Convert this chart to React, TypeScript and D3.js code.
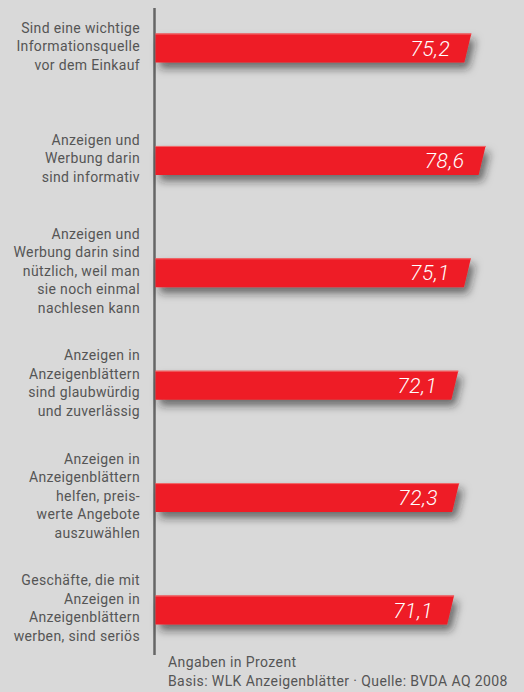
import React from "react";
import * as d3 from "d3";

const categories: string[][] = [
  ["Sind eine wichtige", "Informationsquelle", "vor dem Einkauf"],
  ["Anzeigen und", "Werbung darin", "sind informativ"],
  ["Anzeigen und", "Werbung darin sind", "nützlich, weil man", "sie noch einmal", "nachlesen kann"],
  ["Anzeigen in", "Anzeigenblättern", "sind glaubwürdig", "und zuverlässig"],
  ["Anzeigen in", "Anzeigenblättern", "helfen, preis-", "werte Angebote", "auszuwählen"],
  ["Geschäfte, die mit", "Anzeigen in", "Anzeigenblättern", "werben, sind seriös"],
];
const values: number[] = [75.2, 78.6, 75.1, 72.1, 72.3, 71.1];
const footnotes: string[] = [
  "Angaben in Prozent",
  "Basis: WLK Anzeigenblätter · Quelle: BVDA AQ 2008",
];

const W = 524;
const H = 692;

export default function App() {
  const idx = values.map((_, i) => i);
  const x = d3.scaleLinear().domain([0, 100]).range([155.5, 575.5]);
  const y = d3.scalePoint<number>().domain(idx).range([48, 610]);
  const barH = 29;
  const slant = 7;
  const lineH = 18.5;
  const fmt = (v: number) => d3.format(".1f")(v).replace(".", ",");

  return (
    <svg
      width={W}
      height={H}
      style={{ position: "absolute", left: 0, top: 0 }}
      fontFamily="Roboto, 'Liberation Sans', sans-serif"
    >
      <defs>
        <filter id="shadow" x="-10%" y="-50%" width="130%" height="250%">
          <feDropShadow dx="4" dy="6" stdDeviation="4.5" floodColor="#222" floodOpacity="0.6" />
        </filter>
      </defs>
      <rect width={W} height={H} fill="#d9d9d9" />
      <line x1={154.5} x2={154.5} y1={8} y2={655} stroke="#666" strokeWidth={2.5} />
      {idx.map((i) => {
        const cy = y(i)!;
        const top = cy - barH / 2;
        const x0 = x(0);
        const x1 = x(values[i]);
        const path = d3.path();
        path.moveTo(x0, top);
        path.lineTo(x1, top);
        path.lineTo(x1 - slant, top + barH);
        path.lineTo(x0, top + barH);
        path.closePath();
        const lines = categories[i];
        const n = lines.length;
        return (
          <g key={i}>
            <path d={path.toString()} fill="#ee1c25" filter="url(#shadow)" />
            <line x1={x0} x2={x1} y1={top + 0.5} y2={top + 0.5} stroke="#f07070" strokeWidth={1} />
            <text
              x={x1 - 21}
              y={cy + 7.5}
              textAnchor="end"
              fill="#fff"
              fontSize={21}
              fontStyle="italic"
              fontWeight={300}
              letterSpacing={0.5}
            >
              {fmt(values[i])}
            </text>
            <text textAnchor="end" fontSize={14} fill="#555" letterSpacing={0.35}>
              {lines.map((l, j) => (
                <tspan key={j} x={140} y={cy + (j - (n - 1) / 2) * lineH + 3}>
                  {l}
                </tspan>
              ))}
            </text>
          </g>
        );
      })}
      {footnotes.map((f, j) => (
        <text key={j} x={168} y={667 + j * 19} fontSize={14} fill="#555" letterSpacing={0.4}>
          {f}
        </text>
      ))}
    </svg>
  );
}
